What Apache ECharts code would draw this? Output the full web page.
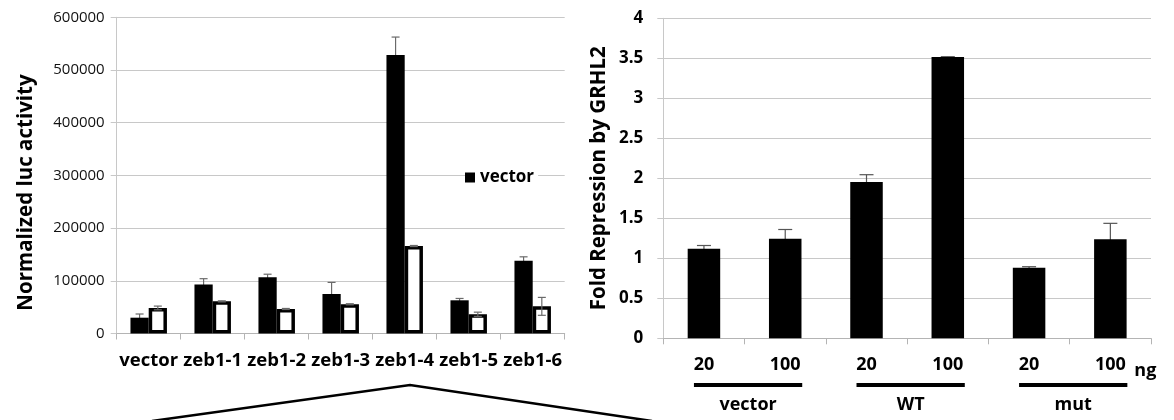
<!DOCTYPE html>
<html>
<head>
<meta charset="utf-8">
<script src="https://cdn.jsdelivr.net/npm/echarts@6/dist/echarts.min.js"></script>
<style>
html,body{margin:0;padding:0;background:#fff;}
#c{width:1174px;height:420px;}
</style>
</head>
<body>
<div id="c"></div>
<script>
// ---- data ----
const leftCategories = ['vector', 'zeb1-1', 'zeb1-2', 'zeb1-3', 'zeb1-4', 'zeb1-5', 'zeb1-6'];
const vectorValues = [30000, 93000, 106500, 75000, 528500, 63000, 138000];
const vectorErrors = [7000, 11000, 6000, 22000, 34000, 3500, 7500];
const grhl2Values = [48500, 61000, 46500, 55500, 166000, 36500, 51500];
const grhl2Errors = [3500, 1000, 1000, 1000, 1000, 4000, 17000];

const rightCategories = ['20', '100', '20', '100', '20', '100'];
const foldValues = [1.12, 1.245, 1.955, 3.515, 0.883, 1.237];
const foldErrors = [0.04, 0.115, 0.09, 0.005, 0.012, 0.2];
const groupLabels = ['vector', 'WT', 'mut'];
const groupSpans = [[0, 1], [2, 3], [4, 5]];
const unitLabel = 'ng';

const FONT = '"Open Sans", "Noto Sans", sans-serif';
const GRID_C = '#c8c8c8';
const AXIS_C = '#b4b4b4';

function errItem(offsetFrac, capW, color) {
  return function (params, api) {
    const idx = api.value(0), v = api.value(1), e = api.value(2);
    const bw = api.size([1, 0])[0];
    const top = api.coord([idx, v + e]);
    const bot = api.coord([idx, v - e]);
    const x = top[0] + offsetFrac * bw;
    const st = { stroke: color, lineWidth: 1.2 };
    return {
      type: 'group',
      children: [
        { type: 'line', shape: { x1: x, y1: top[1], x2: x, y2: bot[1] }, style: st },
        { type: 'line', shape: { x1: x - capW / 2, y1: top[1], x2: x + capW / 2, y2: top[1] }, style: st },
        { type: 'line', shape: { x1: x - capW / 2, y1: bot[1], x2: x + capW / 2, y2: bot[1] }, style: st }
      ]
    };
  };
}

const chart = echarts.init(document.getElementById('c'), null, { renderer: 'canvas' });

const option = {
  backgroundColor: '#fff',
  animation: false,
  textStyle: { fontFamily: FONT },
  grid: [
    { left: 116.7, top: 17.3, width: 448, height: 316.2 },
    { left: 663.3, top: 18.3, width: 487.7, height: 320 }
  ],
  legend: {
    data: ['vector'],
    left: 465, top: 167,
    icon: 'rect', itemWidth: 10, itemHeight: 10, itemGap: 0,
    padding: [2, 4, 2, 0],
    backgroundColor: '#fff',
    textStyle: { fontFamily: FONT, fontWeight: 'bold', fontSize: 17, color: '#000', padding: [0, 0, 0, 0] },
    selectedMode: false
  },
  xAxis: [
    {
      gridIndex: 0, type: 'category', data: leftCategories,
      axisLine: { lineStyle: { color: AXIS_C, width: 1 } },
      axisTick: { show: true, length: 6, lineStyle: { color: AXIS_C } },
      axisLabel: { margin: 18, fontFamily: FONT, fontWeight: 'bold', fontSize: 18.5, color: '#000', interval: 0 }
    },
    {
      gridIndex: 1, type: 'category', data: rightCategories,
      axisLine: { lineStyle: { color: AXIS_C, width: 1 } },
      axisTick: { show: true, length: 6, lineStyle: { color: AXIS_C } },
      axisLabel: { margin: 18, fontFamily: FONT, fontWeight: 'bold', fontSize: 18, color: '#000', interval: 0 }
    }
  ],
  yAxis: [
    {
      gridIndex: 0, type: 'value', min: 0, max: 600000, interval: 100000,
      axisLine: { show: true, lineStyle: { color: GRID_C } },
      axisTick: { show: true, length: 6, lineStyle: { color: GRID_C } },
      axisLabel: { margin: 12, fontFamily: FONT, fontSize: 15, color: '#111', formatter: v => String(v) },
      splitLine: { lineStyle: { color: GRID_C } }
    },
    {
      gridIndex: 1, type: 'value', min: 0, max: 4, interval: 0.5,
      axisLine: { show: true, lineStyle: { color: GRID_C } },
      axisTick: { show: true, length: 6, lineStyle: { color: GRID_C } },
      axisLabel: { margin: 20, fontFamily: FONT, fontWeight: 'bold', fontSize: 17, color: '#000' },
      splitLine: { lineStyle: { color: GRID_C } }
    }
  ],
  series: [
    {
      name: 'vector', type: 'bar', xAxisIndex: 0, yAxisIndex: 0, data: vectorValues,
      barGap: '0%', barCategoryGap: '43%', z: 2,
      itemStyle: { color: '#000' }
    },
    {
      name: 'GRHL2', type: 'bar', xAxisIndex: 0, yAxisIndex: 0, data: grhl2Values,
      barGap: '0%', barCategoryGap: '43%', z: 2,
      itemStyle: { color: '#fff', borderColor: '#000', borderWidth: 3.5 }
    },
    {
      type: 'custom', xAxisIndex: 0, yAxisIndex: 0, z: 1,
      data: vectorValues.map((v, i) => [i, v, vectorErrors[i]]),
      encode: { x: 0, y: 1 },
      renderItem: errItem(-0.1425, 8, '#6a6a6a')
    },
    {
      type: 'custom', xAxisIndex: 0, yAxisIndex: 0, z: 3,
      data: grhl2Values.map((v, i) => [i, v, grhl2Errors[i]]),
      encode: { x: 0, y: 1 },
      renderItem: errItem(0.1425, 8, '#6a6a6a')
    },
    {
      name: 'fold', type: 'bar', xAxisIndex: 1, yAxisIndex: 1, data: foldValues,
      barCategoryGap: '60%', z: 2,
      itemStyle: { color: '#000' }
    },
    {
      type: 'custom', xAxisIndex: 1, yAxisIndex: 1, z: 1,
      data: foldValues.map((v, i) => [i, v, foldErrors[i]]),
      encode: { x: 0, y: 1 },
      renderItem: errItem(0, 14, '#555')
    }
  ]
};
chart.setOption(option);

// annotations placed through the right chart's axes
const px = i => chart.convertToPixel({ xAxisIndex: 1 }, i);
const y0 = chart.convertToPixel({ yAxisIndex: 1 }, 0);
const graphics = [
  {
    type: 'text', x: 26.5, y: 192.5, rotation: Math.PI / 2,
    style: { text: 'Normalized luc activity', font: 'bold 20.5px ' + FONT, fill: '#000', align: 'center', verticalAlign: 'middle' }
  },
  {
    type: 'text', x: 599.5, y: 178.3, rotation: Math.PI / 2,
    style: { text: 'Fold Repression by GRHL2', font: 'bold 20.5px ' + FONT, fill: '#000', align: 'center', verticalAlign: 'middle' }
  },
  {
    type: 'polyline',
    shape: { points: [[152, 421], [410, 385], [652, 421]] },
    style: { stroke: '#000', lineWidth: 2.5, fill: null }
  }
];
groupSpans.forEach((s, k) => {
  const x1 = px(s[0]) - 10, x2 = px(s[1]) + 17;
  graphics.push({
    type: 'rect', shape: { x: x1, y: y0 + 44.7, width: x2 - x1, height: 4 },
    style: { fill: '#000' }
  });
  graphics.push({
    type: 'text', x: (x1 + x2) / 2, y: y0 + 66.5,
    style: { text: groupLabels[k], font: 'bold 18px ' + FONT, fill: '#000', align: 'center', verticalAlign: 'middle' }
  });
});
graphics.push({
  type: 'text', x: px(5) + 24, y: y0 + 33,
  style: { text: unitLabel, font: 'bold 18px ' + FONT, fill: '#000', align: 'left', verticalAlign: 'middle' }
});
chart.setOption({ graphic: graphics });
</script>
</body>
</html>
